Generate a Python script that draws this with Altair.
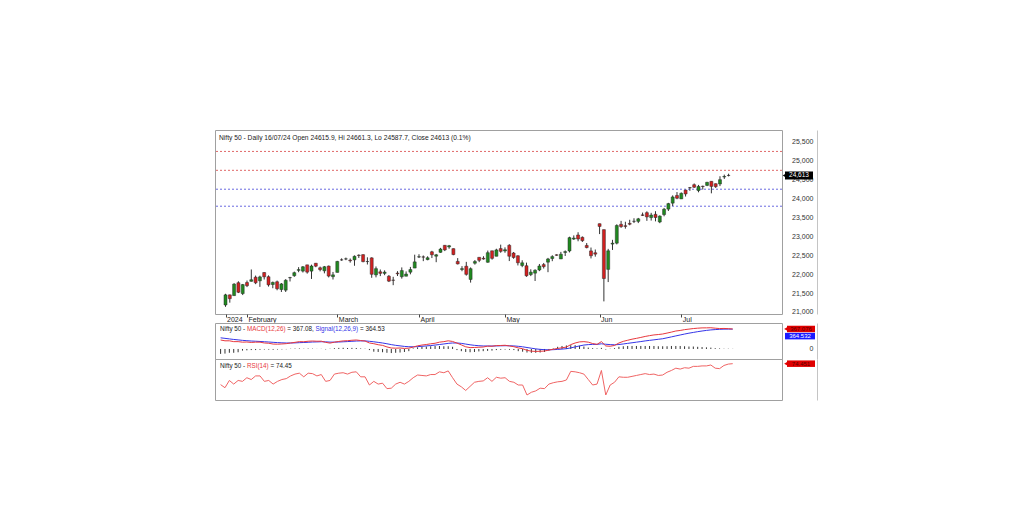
import altair as alt
import pandas as pd

# ---------------- data ----------------
opens = [
    21185, 21454, 21434, 21775, 21488,
    21780, 21812, 21921, 21825, 22045,
    21933, 21727, 21800, 21595, 21578,
    21906, 21960, 22103, 22082, 22248,
    22082, 22291, 22170, 22090, 22215,
    21935, 22048, 22380, 22403, 22372,
    22380, 22505, 22518, 22335, 22433,
    21982, 22064, 22022, 21946, 21844,
    22029, 21933, 21947, 22054, 22163,
    22455, 22458, 22387, 22593, 22477,
    22579, 22765, 22721, 22677, 22340,
    22125, 22212, 21862, 22291, 22447,
    22422, 22316, 22620, 22475, 22679,
    22616, 22766, 22561, 22489, 22231,
    22224, 21990, 22028, 22112, 22255,
    22319, 22415, 22513, 22404, 22576,
    22615, 22930, 23038, 22977, 22762,
    22617, 22568, 23337, 23180, 22128,
    22798, 22822, 23320, 23283, 23345,
    23400, 23399, 23570, 23629, 23499,
    23585, 23382, 23578, 23723, 23881,
    24085, 23993, 24228, 24291, 24369,
    24214, 24329, 24351, 24459, 24396,
    24388, 24573, 24616,
]
highs = [
    21482, 21459, 21763, 21813, 21742,
    21833, 22126, 21964, 21961, 22053,
    21969, 21805, 21832, 21767, 21870,
    21930, 22069, 22187, 22216, 22249,
    22253, 22297, 22202, 22218, 22229,
    22060, 22353, 22420, 22440, 22416,
    22498, 22525, 22526, 22447, 22447,
    22205, 22125, 22103, 21978, 21931,
    22081, 22180, 22074, 22193, 22517,
    22529, 22496, 22474, 22619, 22537,
    22697, 22769, 22775, 22681, 22427,
    22213, 22327, 22180, 22376, 22447,
    22476, 22626, 22620, 22674, 22783,
    22711, 22795, 22588, 22499, 22369,
    22307, 22131, 22131, 22271, 22298,
    22432, 22502, 22526, 22591, 22630,
    22993, 23027, 23111, 23000, 22825,
    22706, 22654, 23339, 23180, 22671,
    22910, 23321, 23412, 23389, 23441,
    23481, 23490, 23631, 23665, 23625,
    23668, 23558, 23754, 23889, 24087,
    24174, 24164, 24237, 24309, 24402,
    24364, 24344, 24444, 24462, 24402,
    24593, 24636, 24661,
]
lows = [
    21137, 21247, 21430, 21501, 21448,
    21659, 21805, 21737, 21665, 21860,
    21672, 21629, 21575, 21530, 21530,
    21808, 21931, 22053, 22045, 22015,
    21875, 22186, 22076, 22023, 21915,
    21860, 22047, 22356, 22372, 22306,
    22224, 22430, 22316, 22257, 21905,
    21917, 21950, 21974, 21793, 21710,
    21952, 21883, 21946, 21997, 22163,
    22428, 22346, 22369, 22428, 22318,
    22568, 22612, 22673, 22503, 22259,
    22079, 21962, 21778, 22253, 22320,
    22386, 22305, 22385, 22475, 22568,
    22568, 22348, 22409, 22232, 22186,
    21932, 21950, 21821, 22081, 22151,
    22054, 22345, 22489, 22404, 22483,
    22577, 22908, 22872, 22854, 22685,
    22418, 22465, 23062, 21281, 21792,
    22642, 22789, 23227, 23206, 23295,
    23354, 23353, 23540, 23412, 23420,
    23399, 23351, 23533, 23673, 23805,
    23985, 23992, 24056, 24207, 24284,
    24168, 24240, 24331, 24141, 24285,
    24332, 24522, 24588,
]
closes = [
    21454, 21353, 21738, 21522, 21726,
    21697, 21854, 21772, 21929, 21931,
    21718, 21783, 21616, 21743, 21840,
    21911, 22041, 22122, 22197, 22055,
    22217, 22213, 22122, 22198, 21951,
    21983, 22339, 22378, 22406, 22356,
    22474, 22494, 22333, 22336, 21998,
    22147, 22023, 22056, 21817, 21839,
    22012, 22097, 22005, 22124, 22327,
    22462, 22453, 22435, 22515, 22514,
    22666, 22643, 22754, 22519, 22273,
    22148, 21996, 22147, 22336, 22368,
    22402, 22570, 22420, 22643, 22605,
    22648, 22476, 22443, 22303, 22302,
    21958, 22055, 22104, 22218, 22201,
    22404, 22466, 22502, 22529, 22598,
    22968, 22957, 22932, 22888, 22705,
    22489, 22531, 23264, 21885, 22620,
    22821, 23290, 23259, 23265, 23323,
    23399, 23466, 23558, 23516, 23567,
    23501, 23538, 23721, 23869, 24045,
    24011, 24142, 24124, 24287, 24302,
    24324, 24321, 24433, 24324, 24316,
    24502, 24587, 24613,
]
macd = [
    165, 150, 150, 135, 135,
    125, 128, 120, 125, 125,
    110, 105, 90, 88, 92,
    98, 110, 122, 135, 133,
    142, 146, 142, 143, 122,
    108, 125, 138, 148, 152,
    160, 165, 155, 146, 110,
    97, 78, 66, 38, 18,
    15, 18, 10, 15, 35,
    58, 72, 82, 95, 105,
    125, 135, 150, 138, 108,
    75, 40, 25, 28, 32,
    36, 52, 50, 62, 64,
    68, 55, 42, 20, 5,
    -25, -40, -45, -42, -38,
    -20, -5, 10, 22, 35,
    80, 110, 130, 135, 125,
    100, 85, 135, 55, 50,
    65, 110, 140, 160, 180,
    195, 212, 230, 245, 258,
    265, 275, 292, 310, 330,
    340, 355, 365, 375, 382,
    387, 388, 390, 382, 375,
    377, 373, 367.08,
]
signal = [
    205, 195, 185, 175, 167,
    158, 152, 146, 142, 138,
    133, 128, 122, 117, 113,
    110, 110, 112, 116, 119,
    123, 128, 130, 133, 131,
    126, 126, 128, 132, 136,
    141, 146, 148, 148, 141,
    132, 121, 110, 96, 80,
    67, 57, 47, 41, 40,
    43, 49, 56, 63, 72,
    82, 92, 103, 110, 110,
    103, 90, 77, 67, 60,
    55, 55, 54, 56, 58,
    60, 59, 56, 49, 40,
    27, 14, 2, -7, -13,
    -15, -13, -8, -2, 5,
    20, 38, 56, 72, 80,
    84, 84, 95, 87, 80,
    77, 82, 92, 103, 114,
    125, 136, 148, 158, 168,
    178, 188, 205, 222, 240,
    257, 274, 290, 304, 318,
    330, 341, 350, 356, 361,
    364, 365, 364.53,
]
hist = [
    -90, -85, -70, -70, -60,
    -30, -25, -20, -20, -15,
    -10, -12, -15, -10, -8,
    -5, 5, 8, 10, 5,
    8, 6, 2, 3, -8,
    5, 15, 20, 22, 18,
    20, 18, 10, 5, -20,
    -50, -55, -60, -70, -75,
    -70, -65, -55, -40, 10,
    30, 40, 45, 50, 55,
    55, 50, 50, 40, -20,
    -40, -55, -60, -55, -45,
    -40, -35, -30, -20, -15,
    -10, -15, -20, -40, -50,
    -65, -70, -70, -65, -55,
    -30, 10, 40, 55, 65,
    70, 70, 60, 45, 25,
    15, 10, 20, -10, 5,
    15, 40, 50, 55, 55,
    55, 55, 55, 55, 55,
    50, 50, 50, 55, 55,
    55, 50, 45, 45, 40,
    35, 30, 25, 15, 10,
    5, 5, 3,
]
rsi = [
    51.4, 48, 56, 52, 56,
    55, 59, 57, 61, 61,
    55, 56, 52, 55, 57,
    58, 61, 63, 64, 60,
    64, 63.5, 61, 62.5, 55,
    56, 63, 64, 64.5, 63,
    65, 65.5, 60, 60, 51,
    55, 52, 53, 47, 47.5,
    52, 54, 52, 55, 59,
    62, 61.5, 61, 62.5, 62.5,
    65.5, 64.5, 66.5, 59, 52,
    49, 45, 49.5, 54, 55,
    55.5, 59, 55, 59.5, 58.5,
    59, 55, 54, 51, 51,
    40, 43, 44.5, 47.5, 47,
    52, 53.5, 54.5, 55, 56.5,
    66, 65.5, 64.5, 63, 57,
    51, 52, 67, 40, 51,
    54, 60, 59.5, 59.5, 60.5,
    61.5, 62.5, 63.5, 62.5, 63,
    61.5, 62, 65, 67, 69.5,
    68.5, 70, 69.5, 71.5, 71.5,
    72, 72, 73, 69.5, 69,
    72.5, 74, 74.45,
]
month_ticks = [0, 5, 26, 45, 65, 87, 106]
month_labels = ["2024", "February", "March", "April", "May", "Jun", "Jul"]
price_ticks = [21000, 21500, 22000, 22500, 23000, 23500, 24000, 24500, 25000, 25500]
resistance_levels = [25250, 24750]
support_levels = [24250, 23800]

price_title = "Nifty 50 - Daily 16/07/24 Open 24615.9, Hi 24661.3, Lo 24587.7, Close 24613 (0.1%)"
last_price_label = "24,613"
macd_label = "367.076"
signal_label = "364.532"
rsi_label = "74.451"

# ---------------- tables ----------------
n = len(closes)
df = pd.DataFrame({
    "i": list(range(n)), "open": opens, "high": highs, "low": lows, "close": closes,
    "macd": macd, "signal": signal, "hist": hist, "rsi": rsi,
})
res_df = pd.DataFrame({"level": resistance_levels})
sup_df = pd.DataFrame({"level": support_levels})
last = df.tail(1).copy()
last["plbl"] = last_price_label
last["mlbl"] = macd_label
last["slbl"] = signal_label
last["rlbl"] = rsi_label

FONT = "Liberation Sans"
W = 567
RED = "#e8383d"
BLUE = "#3535e8"
GREEN_C = "#1f8a1f"
RED_C = "#d42020"
TS = 6.3  # indicator title font size

xscale = alt.Scale(domain=[-1.28, 128.26], nice=False, zero=False)
label_expr = " : ".join(
    f"datum.value == {v} ? '{l}'" for v, l in zip(month_ticks, month_labels)
) + " : ''"
xaxis = alt.Axis(values=month_ticks, labelExpr=label_expr, title=None, grid=False,
                 domain=False, ticks=True, tickSize=3, tickColor="#444",
                 labelAlign="left", labelBaseline="top", labelPadding=-2, labelOffset=1,
                 labelFontSize=7, labelFont=FONT, labelColor="#222",
                 labelOverlap=False, labelFlush=False)
X = alt.X("i:Q", scale=xscale, axis=xaxis)
Xn = alt.X("i:Q", scale=xscale, axis=None)


def right_axis(values, labels=True):
    return alt.Axis(orient="right", values=values, format=",.0f", title=None, grid=False,
                    ticks=False, tickSize=0, domain=True, domainColor="#c4c4c4",
                    offset=35, labelPadding=-4, labelAlign="right", labelFontSize=7,
                    labelFont=FONT, labelColor="#333", labels=labels, zindex=0)


def text_at(txt, x, y, color="#222", size=TS, align="left"):
    return alt.Chart(pd.DataFrame({"t": [txt]})).mark_text(
        align=align, baseline="middle", font=FONT, fontSize=size, color=color
    ).encode(x=alt.value(x), y=alt.value(y), text="t:N")


# ---------------- price panel ----------------
pscale = alt.Scale(domain=[20947, 25817], nice=False, zero=False)
paxis = right_axis(price_ticks)


def PY(f):
    return alt.Y(f, scale=pscale, axis=paxis)


base = alt.Chart(df)
res_rule = alt.Chart(res_df).mark_rule(strokeDash=[2, 2], strokeWidth=1, color="#e06868").encode(
    y=PY("level:Q"))
sup_rule = alt.Chart(sup_df).mark_rule(strokeDash=[2, 2], strokeWidth=1, color="#6a6ae0").encode(
    y=PY("level:Q"))
wick = base.mark_rule(color="#333", strokeWidth=1).encode(x=X, y=PY("low:Q"), y2="high:Q")
body = base.mark_bar(width=3, stroke="#2a2a2a", strokeWidth=0.5).encode(
    x=X, y=PY("open:Q"), y2="close:Q",
    color=alt.condition("datum.close >= datum.open", alt.value(GREEN_C), alt.value(RED_C)),
)
lastbase = alt.Chart(last)
pbox = lastbase.mark_tick(orient="horizontal", size=28, thickness=8, color="black", opacity=1).encode(
    x=alt.value(584), y=PY("close:Q"))
ptri = lastbase.mark_point(shape="triangle-left", filled=True, size=28, color="black", opacity=1).encode(
    x=alt.value(570), y=PY("close:Q"))
ptxt = lastbase.mark_text(font=FONT, fontSize=6.5, color="white", align="center", baseline="middle").encode(
    x=alt.value(584), y=PY("close:Q"), text="plbl:N")

price = alt.layer(
    res_rule, sup_rule, wick, body, text_at(price_title, 4, 7.5, size=6.7), ptri, pbox, ptxt
).properties(width=W, height=184)

# ---------------- MACD panel ----------------
mscale = alt.Scale(domain=[-184, 477], nice=False, zero=False)
maxis = right_axis([0])


def MY(f):
    return alt.Y(f, scale=mscale, axis=maxis)


hbars = base.mark_rule(color="#333", strokeWidth=1).encode(x=Xn, y=MY("hist:Q"), y2=alt.datum(0))
sline = base.mark_line(color=BLUE, strokeWidth=1).encode(x=Xn, y=MY("signal:Q"))
mline = base.mark_line(color=RED, strokeWidth=1).encode(x=Xn, y=MY("macd:Q"))
mbox = lastbase.mark_tick(orient="horizontal", size=28, thickness=6.5, color="#e00000", opacity=1).encode(
    x=alt.value(586), y=MY("macd:Q"))
mtri = lastbase.mark_point(shape="triangle-left", filled=True, size=18, color="#e00000", opacity=1).encode(
    x=alt.value(571), y=MY("macd:Q"))
mtxt = lastbase.mark_text(font=FONT, fontSize=6, color="#5a0000", align="center", baseline="middle").encode(
    x=alt.value(586), y=MY("macd:Q"), text="mlbl:N")
sbox = lastbase.mark_tick(orient="horizontal", size=30, thickness=6.5, color="#1a1aff", opacity=1).encode(
    x=alt.value(585), y=MY("signal:Q"), yOffset=alt.value(7))
stxt = lastbase.mark_text(font=FONT, fontSize=6, color="white", align="center", baseline="middle").encode(
    x=alt.value(585), y=MY("signal:Q"), yOffset=alt.value(7), text="slbl:N")

macd_title = [
    text_at("Nifty 50 - ", 5, 6),
    text_at("MACD(12,26)", 32, 6, color=RED),
    text_at("= 367.08,", 72.3, 6),
    text_at("Signal(12,26,9)", 100.5, 6, color=BLUE),
    text_at("= 364.53", 145, 6),
]
macd_chart = alt.layer(
    hbars, sline, mline, *macd_title, mtri, mbox, mtxt, sbox, stxt
).properties(width=W, height=36)

# ---------------- RSI panel ----------------
rscale = alt.Scale(domain=[34.5, 79.6], nice=False, zero=False)
raxis = right_axis([], labels=False)


def RY(f):
    return alt.Y(f, scale=rscale, axis=raxis)


rline = base.mark_line(color="#f06464", strokeWidth=1).encode(x=Xn, y=RY("rsi:Q"))
rbox = lastbase.mark_tick(orient="horizontal", size=28, thickness=6.5, color="#e00000", opacity=1).encode(
    x=alt.value(586), y=RY("rsi:Q"))
rtri = lastbase.mark_point(shape="triangle-left", filled=True, size=18, color="#e00000", opacity=1).encode(
    x=alt.value(571), y=RY("rsi:Q"))
rtxt = lastbase.mark_text(font=FONT, fontSize=6, color="#5a0000", align="center", baseline="middle").encode(
    x=alt.value(586), y=RY("rsi:Q"), text="rlbl:N")
rsi_title = [
    text_at("Nifty 50 - ", 5, 6.5),
    text_at("RSI(14)", 32, 6.5, color=RED),
    text_at("= 74.45", 55.5, 6.5),
]
rsi_chart = alt.layer(rline, *rsi_title, rtri, rbox, rtxt).properties(width=W, height=41)

lower = alt.vconcat(macd_chart, rsi_chart, spacing=0, bounds="flush")
chart = alt.vconcat(price, lower, spacing=9, bounds="flush").properties(
    padding={"left": 206, "top": 121, "right": 10, "bottom": 10},
    background="white",
).configure_view(stroke="#a0a0a0", strokeWidth=1)

chart.save("out.html", embed_options={"renderer": "svg", "actions": False})
